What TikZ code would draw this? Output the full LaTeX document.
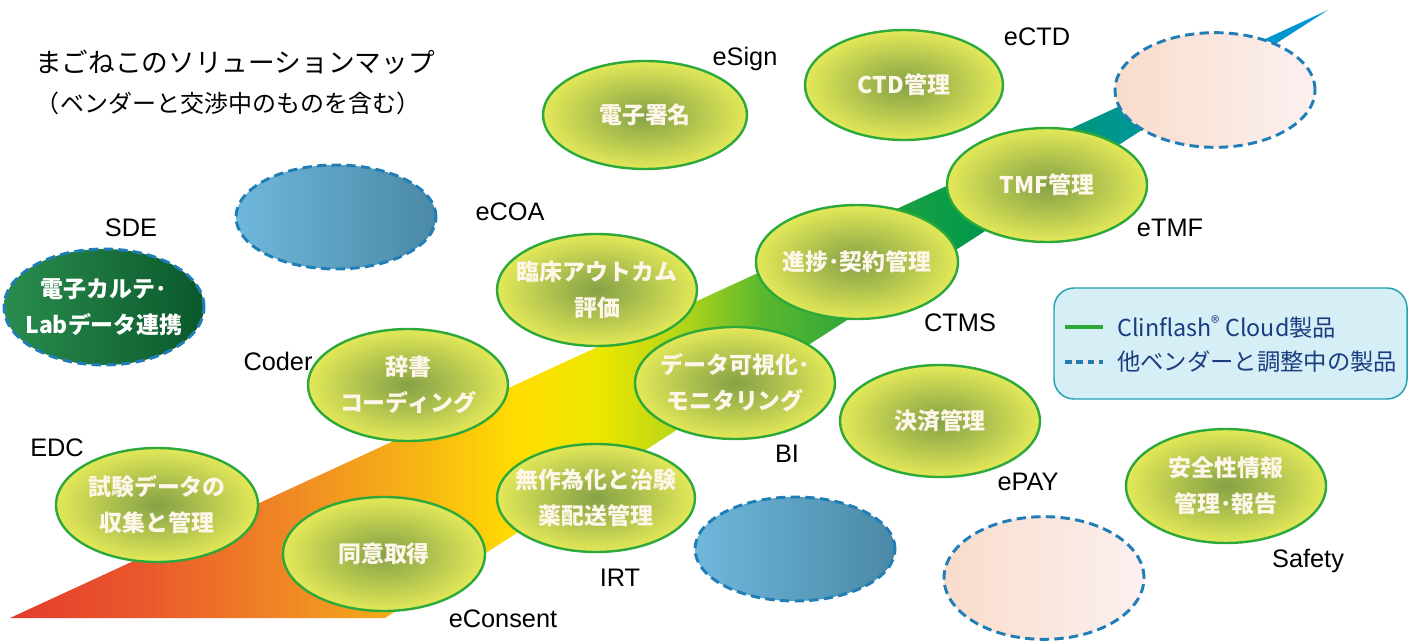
\documentclass[tikz,border=0pt]{standalone}
\usepackage{fontspec}
\setmainfont{Liberation Sans}
\newfontfamily\jp{Noto Sans CJK JP}
\usetikzlibrary{shapes.geometric}
\definecolor{b0}{HTML}{E53A2E}
\definecolor{b1}{HTML}{EA5A2C}
\definecolor{b2}{HTML}{F08C24}
\definecolor{b3}{HTML}{F7B614}
\definecolor{b4}{HTML}{FFDE00}
\definecolor{b5}{HTML}{ECE600}
\definecolor{b6}{HTML}{B6D61A}
\definecolor{b7}{HTML}{5CB82E}
\definecolor{b8}{HTML}{22A23E}
\definecolor{b9}{HTML}{00984C}
\definecolor{b10}{HTML}{009688}
\definecolor{b11}{HTML}{0096C0}
\definecolor{b12}{HTML}{0098DC}
\definecolor{egg1}{HTML}{86A246}
\definecolor{egg2}{HTML}{A4BA4C}
\definecolor{egg3}{HTML}{E3E858}
\definecolor{eggline}{HTML}{2DA83A}
\definecolor{eggtxt}{HTML}{FFF6EA}
\definecolor{dashblue}{HTML}{1F7DB8}
\definecolor{pinkL}{HTML}{F9DCCB}
\definecolor{pinkR}{HTML}{FBF0F0}
\definecolor{blueL}{HTML}{6FB8DC}
\definecolor{blueR}{HTML}{4A88A6}
\definecolor{dgL}{HTML}{2A8C4E}
\definecolor{dgR}{HTML}{0A582B}
\definecolor{legfill}{HTML}{D6EEF5}
\definecolor{legline}{HTML}{22A2B2}
\definecolor{legtxt}{HTML}{1A3C80}
\definecolor{leggreen}{HTML}{2EA836}
\definecolor{legpale}{HTML}{F3E4DE}
\pgfdeclarehorizontalshading{bandshade}{100bp}{color(0bp)=(b0); color(25bp)=(b0); color(30.31bp)=(b1); color(36bp)=(b2); color(40.56bp)=(b3); color(44.35bp)=(b4); color(47.38bp)=(b5); color(50.42bp)=(b6); color(53.45bp)=(b7); color(58bp)=(b8); color(61.8bp)=(b9); color(66.35bp)=(b10); color(70.9bp)=(b11); color(75bp)=(b12); color(100bp)=(b12)}
\pgfdeclareradialshading{eggshade}{\pgfpoint{0bp}{0bp}}{color(0bp)=(egg1); color(9bp)=(egg2); color(25bp)=(egg3); color(50bp)=(egg3)}
\begin{document}
\begin{tikzpicture}[x=0.75pt,y=-0.75pt,
  egg/.style={ellipse, draw=eggline, line width=1.8pt, shade, shading=eggshade, minimum width=150pt, minimum height=84pt, inner sep=0pt},
  eggtext/.style={font=\jp\bfseries\fontsize{17.2}{27}\selectfont, text=eggtxt, align=center, inner sep=0pt},
  vend/.style={ellipse, draw=dashblue, line width=2.2pt, dash pattern=on 7pt off 4pt, minimum width=150pt, minimum height=80pt, inner sep=0pt},
  lbl/.style={font=\fontsize{19}{22}\selectfont, anchor=base, inner sep=0pt},
  legtext/.style={font=\jp\fontsize{17.5}{20}\selectfont, text=legtxt, anchor=west, inner sep=0pt}]
\useasboundingbox (0,0) rectangle (1416,641);
\fill[white] (0,0) rectangle (1416,641);
% band
\shade[shading=bandshade] (10,618) -- (385,618) -- (1328,10) -- cycle;
% title
\node[font=\jp\fontsize{20}{24}\selectfont, inner sep=0pt] (title1) at (235,62) {まごねこのソリューションマップ};
\node[font=\jp\fontsize{18}{22}\selectfont, inner sep=0pt] (title2) at (228,103) {（ベンダーと交渉中のものを含む）};
% vendor (dashed) ellipses
\node[vend, left color=dgL, right color=dgR, minimum height=87pt] (sde) at (104,307) {};
\node[eggtext, text=white] (sdet) at (sde) {電子カルテ･\\Labデータ連携};
\node[vend, left color=blueL, right color=blueR, minimum height=78pt] (blue1) at (336,217) {};
\node[vend, left color=blueL, right color=blueR, minimum height=78pt] (blue2) at (795,549) {};
\node[vend, left color=pinkL, right color=pinkR, minimum height=86pt] (pink1) at (1215,90) {};
\node[vend, left color=pinkL, right color=pinkR, minimum height=92pt] (pink2) at (1044,578) {};
% product ellipses
\node[egg, minimum width=153pt, minimum height=81pt] (esign) at (645,115) {};
\node[eggtext] at (esign) {電子署名};
\node[egg, minimum width=148.5pt, minimum height=82.5pt] (ectd) at (904,85) {};
\node[eggtext] at (ectd) {CTD管理};
\node[egg, minimum height=85.5pt] (etmf) at (1047,185) {};
\node[eggtext] at (etmf) {TMF管理};
\node[egg, minimum width=151.5pt, minimum height=85.5pt] (ctms) at (857,262) {};
\node[eggtext] at (ctms) {進捗･契約管理};
\node[egg] (ecoa) at (597,290) {};
\node[eggtext] at (ecoa) {臨床アウトカム\\評価};
\node[egg] (bi) at (735,383) {};
\node[eggtext] at (bi) {データ可視化･\\モニタリング};
\node[egg] (epay) at (940,421) {};
\node[eggtext] at (epay) {決済管理};
\node[egg] (coder) at (408,385) {};
\node[eggtext] at (coder) {辞書\\コーディング};
\node[egg, minimum width=148.5pt, minimum height=81pt] (irt) at (596,498) {};
\node[eggtext] at (irt) {無作為化と治験\\薬配送管理};
\node[egg, minimum width=151.5pt, minimum height=85.5pt] (econs) at (384,554) {};
\node[eggtext] at (econs) {同意取得};
\node[egg, minimum width=151.5pt, minimum height=85.5pt] (edc) at (157,505) {};
\node[eggtext] at (edc) {試験データの\\収集と管理};
\node[egg, minimum height=85.5pt] (safety) at (1226,486) {};
\node[eggtext] at (safety) {安全性情報\\管理･報告};
% outer labels
\node[lbl] (l-esign) at (745,66) {eSign};
\node[lbl] (l-ectd) at (1037,46) {eCTD};
\node[lbl] (l-etmf) at (1170,237) {eTMF};
\node[lbl] (l-ctms) at (960,332) {CTMS};
\node[lbl] (l-ecoa) at (510,221) {eCOA};
\node[lbl] (l-sde) at (131,237) {SDE};
\node[lbl] (l-coder) at (278,370) {Coder};
\node[lbl] (l-bi) at (787,462) {BI};
\node[lbl] (l-edc) at (57,456) {EDC};
\node[lbl] (l-epay) at (1028,490) {ePAY};
\node[lbl] (l-irt) at (620,586) {IRT};
\node[lbl] (l-econs) at (503,627) {eConsent};
\node[lbl] (l-safety) at (1308,567) {Safety};
% legend
\node[draw=legline, line width=1.1pt, fill=legfill, rounded corners=15pt, minimum width=264.75pt, minimum height=83.25pt, inner sep=0pt] (leg) at (1230.5,343.5) {};
\coordinate (g1) at (1065,327);
\coordinate (g2) at (1103,327);
\draw[leggreen, line width=2.6pt] (g1) -- (g2);
\coordinate (d1) at (1065,362);
\coordinate (d2) at (1103,362);
\draw[legpale, line width=2.4pt] (d1) -- (d2);
\draw[dashblue, line width=2.4pt, dash pattern=on 5pt off 3.5pt] (d1) -- (d2);
\node[legtext] (leg1) at (1117,327) {Clinflash{\fontsize{13}{13}\selectfont\raisebox{5pt}{®}} Cloud製品};
\node[legtext] (leg2) at (1117,362) {他ベンダーと調整中の製品};
\end{tikzpicture}
\end{document}
